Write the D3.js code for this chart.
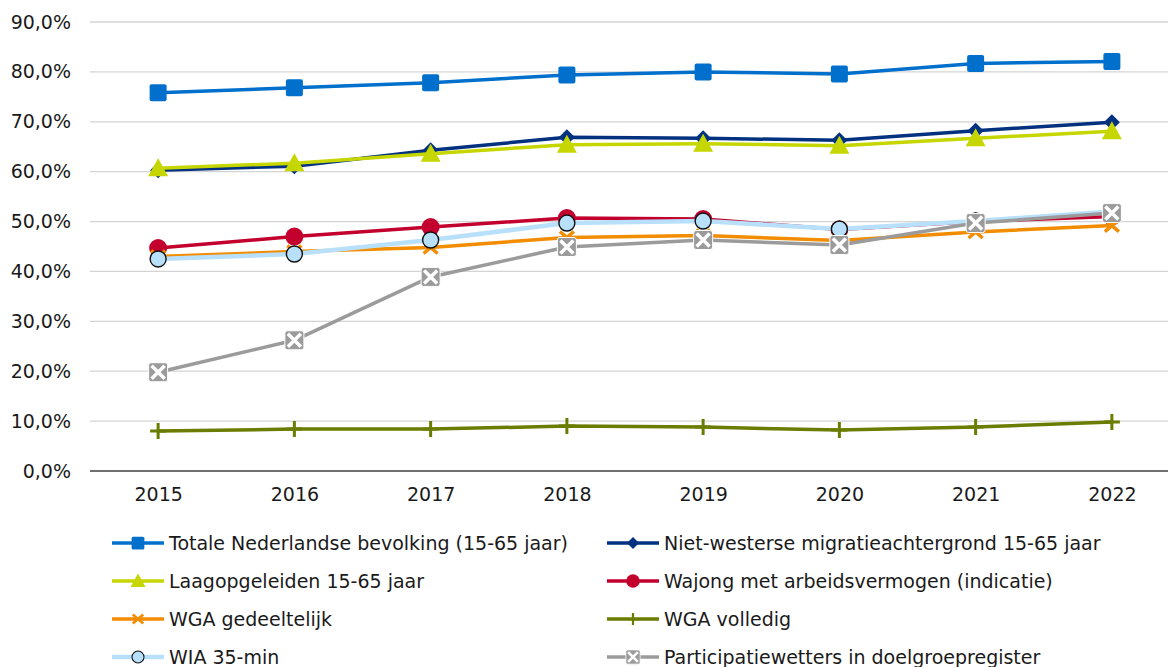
<!DOCTYPE html>
<html lang="nl">
<head>
<meta charset="UTF-8">
<title>Arbeidsparticipatie</title>
<script src="https://cdn.jsdelivr.net/npm/d3@7"></script>
<style>
  body { margin: 0; background: #fff; }
  svg { display: block; font-family: "DejaVu Sans", Verdana, sans-serif; }
</style>
</head>
<body>
<div id="chart"></div>
<script>
// jaren en reeksen
var years = ['2015', '2016', '2017', '2018', '2019', '2020', '2021', '2022'];
var yTicks = [0, 0.1, 0.2, 0.3, 0.4, 0.5, 0.6, 0.7, 0.8, 0.9];

var totaal = [0.758, 0.768, 0.778, 0.794, 0.800, 0.796, 0.817, 0.821];
var nietWesters = [0.603, 0.611, 0.643, 0.669, 0.667, 0.663, 0.682, 0.699];
var laagopgeleid = [0.607, 0.617, 0.636, 0.654, 0.656, 0.652, 0.667, 0.681];
var wajong = [0.447, 0.470, 0.489, 0.507, 0.505, 0.484, 0.500, 0.510];
var wgaGedeeltelijk = [0.430, 0.440, 0.448, 0.468, 0.472, 0.462, 0.479, 0.492];
var wgaVolledig = [0.080, 0.084, 0.084, 0.090, 0.088, 0.082, 0.088, 0.098];
var wia = [0.425, 0.435, 0.463, 0.497, 0.501, 0.485, 0.501, 0.520];
var participatie = [0.198, 0.262, 0.389, 0.449, 0.463, 0.453, 0.497, 0.517];

var names = [
    'Totale Nederlandse bevolking (15-65 jaar)',
    'Niet-westerse migratieachtergrond 15-65 jaar',
    'Laagopgeleiden 15-65 jaar',
    'Wajong met arbeidsvermogen (indicatie)',
    'WGA gedeeltelijk',
    'WGA volledig',
    'WIA 35-min',
    'Participatiewetters in doelgroepregister'
];

var series = [
    { name: names[0], values: totaal, color: '#0070cc', marker: 'square' },
    { name: names[1], values: nietWesters, color: '#01317f', marker: 'diamond' },
    { name: names[2], values: laagopgeleid, color: '#c5d600', marker: 'triangle' },
    { name: names[3], values: wajong, color: '#c3002d', marker: 'circle' },
    { name: names[4], values: wgaGedeeltelijk, color: '#f28c00', marker: 'x' },
    { name: names[5], values: wgaVolledig, color: '#6a7d00', marker: 'plus' },
    { name: names[6], values: wia, color: '#b9e0fa', marker: 'ring' },
    { name: names[7], values: participatie, color: '#9b9b9b', marker: 'boxx' }
];

var nl = d3.formatLocale({ decimal: ',', thousands: '.', grouping: [3], currency: ['€', ''] });
var pct = nl.format('.1%');

var width = 1168, height = 667;
var fontSize = 19;

var svg = d3.select('#chart').append('svg')
    .attr('width', width)
    .attr('height', height);

var x = d3.scalePoint().domain(years).range([90, 1180]).padding(0.5);
var y = d3.scaleLinear().domain([0, 0.9]).range([471, 22]);

// rasterlijnen
svg.append('g')
    .selectAll('line')
    .data(yTicks.slice(1))
    .enter()
    .append('line')
    .attr('x1', 90).attr('x2', width)
    .attr('y1', d => y(d)).attr('y2', d => y(d))
    .attr('stroke', '#d4d4d4')
    .attr('stroke-width', 1.3);

var yAxis = svg.append('g')
    .attr('transform', 'translate(90,0)')
    .call(d3.axisLeft(y).tickValues(yTicks).tickFormat(pct).tickSize(0).tickPadding(19))
    .attr('font-family', null)
    .attr('font-size', fontSize);
yAxis.select('.domain').remove();
yAxis.selectAll('text').attr('fill', '#1a1a1a');

var xAxis = svg.append('g')
    .attr('transform', `translate(0,${y(0)})`)
    .call(d3.axisBottom(x).tickSize(0).tickPadding(17))
    .attr('font-family', null)
    .attr('font-size', fontSize);
xAxis.select('.domain').attr('stroke', '#404040').attr('stroke-width', 1.5)
    .attr('d', `M90,0H${width}`);
xAxis.selectAll('text').attr('fill', '#1a1a1a');

function drawMarker(g, type, color) {
    if (type === 'square') {
        g.append('rect').attr('x', -8.5).attr('y', -8.5).attr('width', 17).attr('height', 17)
            .attr('rx', 2).attr('fill', color);
    } else if (type === 'diamond') {
        g.append('path').attr('d', 'M0,-8L8,0L0,8L-8,0Z').attr('fill', color);
    } else if (type === 'triangle') {
        g.append('path').attr('d', 'M0,-10L10,8L-10,8Z').attr('fill', color);
    } else if (type === 'circle') {
        g.append('circle').attr('r', 9).attr('fill', color);
    } else if (type === 'x') {
        g.append('path').attr('d', 'M-7,-6L7,6M-7,6L7,-6').attr('stroke', color)
            .attr('stroke-width', 3.5).attr('fill', 'none');
    } else if (type === 'plus') {
        g.append('path').attr('d', 'M-8,0H8M0,-8V8').attr('stroke', color)
            .attr('stroke-width', 3).attr('fill', 'none');
    } else if (type === 'ring') {
        g.append('circle').attr('r', 8).attr('fill', color).attr('stroke', '#111').attr('stroke-width', 1.4);
    } else if (type === 'boxx') {
        g.append('rect').attr('x', -9.5).attr('y', -9.5).attr('width', 19).attr('height', 19)
            .attr('rx', 2.5).attr('fill', color).attr('stroke', '#fff').attr('stroke-width', 1);
        g.append('path').attr('d', 'M-6.5,-6.5L6.5,6.5M-6.5,6.5L6.5,-6.5').attr('stroke', '#fff')
            .attr('stroke-width', 3.5).attr('fill', 'none');
    }
}

var line = d3.line()
    .x((d, i) => x(years[i]))
    .y(d => y(d));

series.forEach(function (s) {
    var g = svg.append('g');
    g.append('path')
        .attr('d', line(s.values))
        .attr('fill', 'none')
        .attr('stroke', s.color)
        .attr('stroke-width', s.marker === 'ring' ? 4.5 : 3.5)
        .attr('stroke-linejoin', 'round');
    g.selectAll('g.pt')
        .data(s.values)
        .enter()
        .append('g')
        .attr('class', 'pt')
        .attr('transform', (d, i) => `translate(${x(years[i])},${y(d)})`)
        .each(function () { drawMarker(d3.select(this), s.marker, s.color); });
});

// legenda
var legendX = [112, 607];
var legendY = [543, 581, 619, 657];
var legend = svg.append('g');
series.forEach(function (s, i) {
    var col = i % 2, row = Math.floor(i / 2);
    var lx = legendX[col], ly = legendY[row];
    var item = legend.append('g').attr('transform', `translate(${lx},${ly})`);
    item.append('line').attr('x1', 0).attr('x2', 52).attr('y1', 0).attr('y2', 0)
        .attr('stroke', s.color).attr('stroke-width', s.marker === 'ring' ? 4.5 : 3.5);
    var m = item.append('g').attr('transform', 'translate(26,0) scale(0.75)');
    drawMarker(m, s.marker, s.color);
    item.append('text')
        .attr('x', 57)
        .attr('y', 0)
        .attr('dy', '0.35em')
        .attr('font-size', fontSize)
        .attr('fill', '#1a1a1a')
        .text(s.name);
});
</script>
</body>
</html>
